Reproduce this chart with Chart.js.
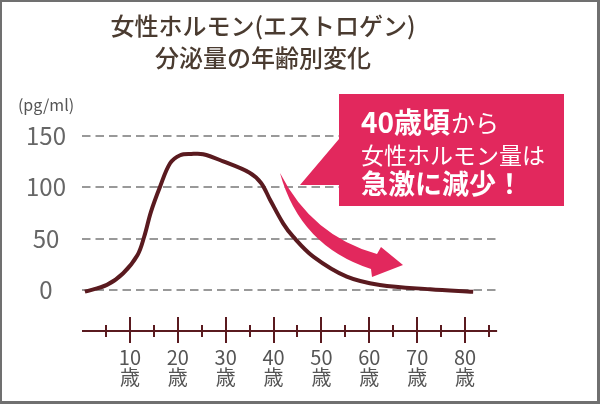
<!DOCTYPE html>
<html lang="ja">
<head>
<meta charset="utf-8">
<title>女性ホルモン(エストロゲン)分泌量の年齢別変化</title>
<script src="https://cdn.jsdelivr.net/npm/chart.js@4"></script>
<style>
  html, body { margin: 0; padding: 0; background: #fff; }
  #wrap { width: 600px; height: 404px; }
</style>
</head>
<body>
<div id="wrap"><canvas id="c" width="600" height="404"></canvas></div>
<script>
// データ
const ages = [0.6, 5.2, 8.6, 11.6, 13.0, 14.4, 16.3, 18.4, 20.5, 22.8, 25.3, 29.5, 35.0, 37.4, 39.3, 42.0, 44.1, 48.3, 55.3, 62.2, 72.7, 81.7];
const values = [-1.7, 4.9, 16.2, 34, 52, 76, 100.4, 123.2, 131, 132.2, 132, 125, 114, 104, 87.5, 64.8, 51.8, 32.4, 12.9, 4.9, 0.7, -1.7];
const yTicks = [0, 50, 100, 150];
const majorTicks = [10, 20, 30, 40, 50, 60, 70, 80];
const minorTicks = [5, 15, 25, 35, 45, 55, 65, 75, 85];
const titleLines = ['女性ホルモン(エストロゲン)', '分泌量の年齢別変化'];
const unitLabel = '(pg/ml)';

const FONT = '"Noto Sans CJK JP", "Noto Sans", sans-serif';
const LINE_COLOR = '#5a1a1f';
const PINK = '#e2285d';

// 背景・タイトル・枠線・x軸・吹き出しを描くプラグイン
const decor = {
  id: 'decor',
  beforeDraw(chart) {
    const ctx = chart.ctx;
    ctx.save();
    ctx.fillStyle = '#fff';
    ctx.fillRect(0, 0, chart.width, chart.height);
    ctx.restore();
  },
  afterDatasetsDraw(chart) {
    const ctx = chart.ctx;
    const xs = chart.scales.x;
    const axisY = chart.chartArea.bottom;

    ctx.save();
    // x軸（目盛りは上下に伸びる）
    ctx.strokeStyle = LINE_COLOR;
    ctx.lineWidth = 2;
    ctx.beginPath();
    ctx.moveTo(xs.getPixelForValue(0), axisY);
    ctx.lineTo(xs.getPixelForValue(86.7), axisY);
    majorTicks.forEach(v => {
      const px = Math.round(xs.getPixelForValue(v));
      ctx.moveTo(px, axisY - 14);
      ctx.lineTo(px, axisY + 12);
    });
    minorTicks.forEach(v => {
      const px = Math.round(xs.getPixelForValue(v));
      ctx.moveTo(px, axisY - 6);
      ctx.lineTo(px, axisY + 6);
    });
    ctx.stroke();

    // 矢印
    ctx.fillStyle = PINK;
    ctx.beginPath();
    ctx.moveTo(280, 173);
    ctx.quadraticCurveTo(312, 236, 377, 254);
    ctx.lineTo(381, 247);
    ctx.lineTo(403, 265);
    ctx.lineTo(372, 277);
    ctx.lineTo(371, 269);
    ctx.quadraticCurveTo(300, 246, 280, 173);
    ctx.closePath();
    ctx.fill();

    // 吹き出し
    ctx.beginPath();
    ctx.moveTo(339, 94);
    ctx.lineTo(564, 94);
    ctx.lineTo(564, 206);
    ctx.lineTo(339, 206);
    ctx.lineTo(339, 185);
    ctx.lineTo(300, 185);
    ctx.lineTo(339, 139);
    ctx.closePath();
    ctx.fill();

    ctx.fillStyle = '#fff';
    ctx.textBaseline = 'middle';
    ctx.textAlign = 'left';
    ctx.font = 'bold 28px ' + FONT;
    ctx.fillText('40歳頃', 361, 122);
    const w = ctx.measureText('40歳頃').width;
    ctx.font = '24px ' + FONT;
    ctx.fillText('から', 361 + w + 1, 123);
    ctx.font = '23px ' + FONT;
    ctx.fillText('女性ホルモン量は', 361, 155);
    ctx.font = 'bold 27px ' + FONT;
    ctx.fillText('急激に減少！', 361, 184);
    ctx.restore();
  },
  afterDraw(chart) {
    const ctx = chart.ctx;
    ctx.save();
    // タイトル
    ctx.fillStyle = '#4a3b30';
    ctx.textAlign = 'center';
    ctx.textBaseline = 'middle';
    ctx.font = '500 24px ' + FONT;
    ctx.fillText(titleLines[0], 263, 26);
    ctx.fillText(titleLines[1], 263, 58);
    // 単位
    ctx.fillStyle = '#555';
    ctx.font = '16px ' + FONT;
    ctx.fillText(unitLabel, 46, 105);
    // 枠線
    ctx.fillStyle = '#707070';
    ctx.fillRect(0, 0, 600, 2);
    ctx.fillRect(0, 0, 2, 404);
    ctx.fillRect(597, 0, 3, 404);
    ctx.fillRect(0, 401, 600, 3);
    ctx.restore();
  }
};

new Chart(document.getElementById('c'), {
  type: 'line',
  data: {
    datasets: [{
      data: ages.map((a, i) => ({ x: a, y: values[i] })),
      borderColor: LINE_COLOR,
      borderWidth: 4,
      pointRadius: 0,
      tension: 0.35,
      fill: false,
      clip: false
    }]
  },
  options: {
    responsive: false,
    animation: false,
    layout: { padding: { top: 125.4, right: 100, left: 0, bottom: 0 } },
    plugins: { legend: { display: false }, tooltip: { enabled: false } },
    scales: {
      x: {
        type: 'linear',
        min: 0,
        max: 87.3,
        afterFit: s => { s.height = 73; },
        afterBuildTicks: s => { s.ticks = majorTicks.map(v => ({ value: v })); },
        grid: { display: false, drawTicks: false },
        border: { display: false },
        ticks: {
          padding: 16,
          autoSkip: false,
          maxRotation: 0,
          color: '#555',
          font: { family: FONT, size: 20, lineHeight: 1.0 },
          callback: v => [String(v), '歳']
        }
      },
      y: {
        min: -39.9,
        max: 160,
        afterFit: s => { s.width = 82; },
        afterBuildTicks: s => { s.ticks = yTicks.map(v => ({ value: v })); },
        grid: { color: '#999', lineWidth: 2, drawTicks: false },
        border: { display: false, dash: [8.5, 5] },
        ticks: {
          padding: 16,
          crossAlign: 'center',
          color: '#666',
          font: { family: FONT, size: 24 }
        }
      }
    }
  },
  plugins: [decor]
});
</script>
</body>
</html>
